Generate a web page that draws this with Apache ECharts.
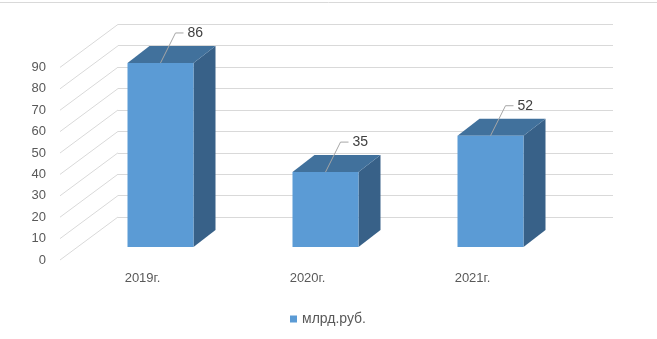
<!DOCTYPE html>
<html>
<head>
<meta charset="utf-8">
<script src="https://cdn.jsdelivr.net/npm/echarts@6/dist/echarts.min.js"></script>
<style>
  html, body { margin: 0; padding: 0; background: #fff; }
  #chart { width: 657px; height: 339px; }
</style>
</head>
<body>
<div id="chart"></div>
<script>
const years = ['2019г.', '2020г.', '2021г.'];
const values = [86, 35, 52];
const yTicks = [0, 10, 20, 30, 40, 50, 60, 70, 80, 90];
const seriesName = 'млрд.руб.';

// смещение "глубины" (от передней плоскости к задней стенке)
const wallDx = 58, wallDy = -43;
const barDx = 22, barDy = -17;

let chart = echarts.init(document.getElementById('chart'));

const font = 'Liberation Sans, Arial, sans-serif';
const yRange = { min: 0, max: 90, interval: 10 };

const option = {
    animation: false,
    textStyle: { fontFamily: font },
    legend: {
        data: [seriesName],
        left: 285,
        top: 307,
        icon: 'rect',
        itemWidth: 7,
        itemHeight: 7,
        itemGap: 6,
        textStyle: { color: '#595959', fontSize: 14, fontFamily: font }
    },
    graphic: [{
        type: 'line',
        shape: { x1: 0, y1: 2.5, x2: 657, y2: 2.5 },
        style: { stroke: '#d9d9d9', lineWidth: 1 }
    }],
    grid: [
        // задняя стенка
        { left: 118, right: 44, top: 24.3, bottom: 122 },
        // передняя плоскость (подписи)
        { left: 60, right: 102, top: 67.4, bottom: 79 },
        // плоскость столбцов
        { left: 78, right: 84, top: 54.4, bottom: 92 }
    ],
    xAxis: [
        { gridIndex: 0, type: 'category', data: years, show: false },
        {
            gridIndex: 1, type: 'category', data: years,
            axisLine: { show: false }, axisTick: { show: false },
            axisLabel: { color: '#595959', fontSize: 13, margin: 12 }
        },
        { gridIndex: 2, type: 'category', data: years, show: false }
    ],
    yAxis: [
        {
            gridIndex: 0, type: 'value', ...yRange,
            axisLabel: { show: false }, axisLine: { show: false }, axisTick: { show: false },
            splitLine: { lineStyle: { color: '#d9d9d9', width: 1 } }
        },
        {
            gridIndex: 1, type: 'value', ...yRange,
            axisLine: { show: false }, axisTick: { show: false },
            splitLine: { show: false },
            axisLabel: { color: '#595959', fontSize: 13, margin: 14 }
        },
        { gridIndex: 2, type: 'value', ...yRange, show: false }
    ],
    series: [
        {
            // диагональные линии левой стенки
            type: 'custom',
            xAxisIndex: 1,
            yAxisIndex: 1,
            silent: true,
            data: yTicks.map(t => [0, t]),
            renderItem: function (params, api) {
                const p = api.coord([0, api.value(1)]);
                const band = api.size([1, 0])[0];
                const x = p[0] - band / 2;
                return {
                    type: 'line',
                    shape: { x1: x, y1: p[1], x2: x + wallDx, y2: p[1] + wallDy },
                    style: { stroke: '#d9d9d9', lineWidth: 1 }
                };
            }
        },
        {
            name: seriesName,
            type: 'custom',
            xAxisIndex: 2,
            yAxisIndex: 2,
            itemStyle: { color: '#5b9bd5' },
            data: values.map((v, i) => [i, v]),
            renderItem: function (params, api) {
                const i = api.value(0), v = api.value(1);
                const base = api.coord([i, 0]);
                const top = api.coord([i, v]);
                const w = api.size([1, 0])[0] * 0.4;
                const x0 = base[0] - w / 2, x1 = base[0] + w / 2;
                const yb = base[1], yt = top[1];
                const cx = base[0];
                const ly = yt - 30;
                return {
                    type: 'group',
                    children: [
                        {
                            type: 'polygon',
                            shape: { points: [[x1, yt], [x1, yb], [x1 + barDx, yb + barDy], [x1 + barDx, yt + barDy]] },
                            style: { fill: '#386188' }
                        },
                        {
                            type: 'polygon',
                            shape: { points: [[x0, yt], [x1, yt], [x1 + barDx, yt + barDy], [x0 + barDx, yt + barDy]] },
                            style: { fill: '#41719c' }
                        },
                        {
                            type: 'rect',
                            shape: { x: x0, y: yt, width: w, height: yb - yt },
                            style: { fill: '#5b9bd5' }
                        },
                        {
                            type: 'polyline',
                            shape: { points: [[cx, yt], [cx + 15, ly], [cx + 23, ly]] },
                            style: { stroke: '#a6a6a6', lineWidth: 1, fill: null }
                        },
                        {
                            type: 'text',
                            style: {
                                x: cx + 27, y: ly,
                                text: String(v),
                                fill: '#404040',
                                font: '14px ' + font,
                                verticalAlign: 'middle',
                                align: 'left'
                            }
                        }
                    ]
                };
            }
        }
    ]
};

option && chart.setOption(option);
window.addEventListener('resize', chart.resize);
</script>
</body>
</html>
